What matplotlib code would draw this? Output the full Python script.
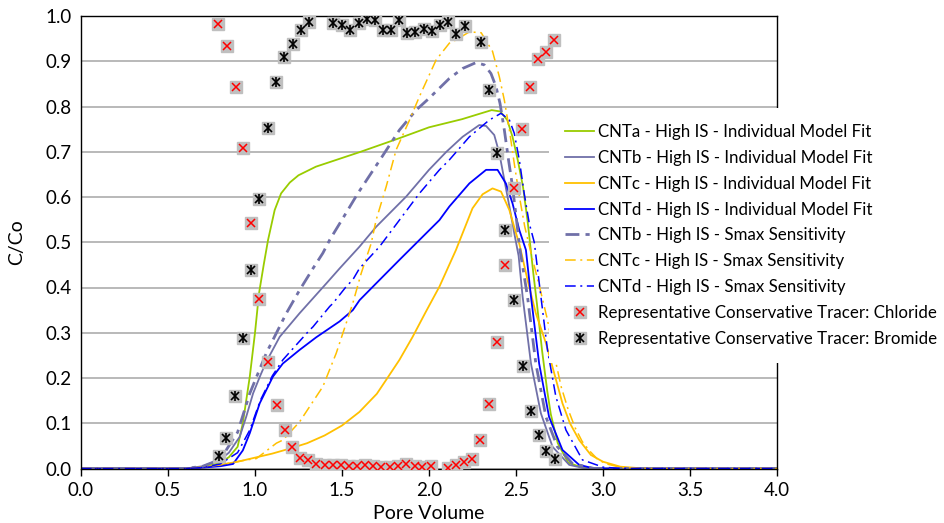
import numpy as np
import matplotlib
matplotlib.use('Agg')
import matplotlib.pyplot as plt
from matplotlib.legend_handler import HandlerTuple

plt.rcParams['font.family'] = ['Lato', 'DejaVu Sans']

# CNTa - individual model fit
cnta_x = [0, 0.6, 0.7, 0.8, 0.85, 0.9, 0.93, 0.97, 1.0, 1.023, 1.05, 1.075, 1.113, 1.15,
          1.2, 1.25, 1.35, 1.6, 1.83, 2.0, 2.19, 2.3, 2.36, 2.41, 2.45, 2.48, 2.51, 2.54,
          2.566, 2.58, 2.60, 2.62, 2.65, 2.68, 2.70, 2.74, 2.8, 2.88, 3.0, 4.0]
cnta_y = [0, 0, 0.003, 0.012, 0.025, 0.048, 0.10, 0.203, 0.30, 0.387, 0.45, 0.505, 0.571, 0.608,
          0.632, 0.648, 0.667, 0.699, 0.730, 0.754, 0.772, 0.785, 0.792, 0.789, 0.770, 0.733, 0.682, 0.623,
          0.549, 0.50, 0.43, 0.365, 0.26, 0.17, 0.12, 0.056, 0.013, 0.002, 0, 0]

# CNTb - individual model fit
cntb_x = [0, 0.6, 0.7, 0.8, 0.85, 0.912, 0.95, 0.989, 1.03, 1.065, 1.142, 1.256, 1.41, 1.486,
          1.6, 1.696, 1.869, 2.0, 2.1, 2.193, 2.289, 2.328, 2.375, 2.404, 2.433, 2.462, 2.49,
          2.515, 2.538, 2.586, 2.643, 2.71, 2.806, 2.9, 4.0]
cntb_y = [0, 0, 0.005, 0.02, 0.035, 0.07, 0.115, 0.166, 0.205, 0.236, 0.291, 0.343, 0.409, 0.442,
          0.490, 0.534, 0.601, 0.66, 0.70, 0.733, 0.759, 0.757, 0.737, 0.697, 0.638, 0.579, 0.520,
          0.47, 0.380, 0.232, 0.122, 0.048, 0.008, 0, 0]

# CNTc - individual model fit
cntc_x = [0, 0.6, 0.7, 0.8, 0.9, 1.0, 1.1, 1.2, 1.3, 1.4, 1.5, 1.6, 1.7, 1.754, 1.83, 1.906,
          1.98, 2.06, 2.155, 2.25, 2.308, 2.365, 2.414, 2.462, 2.50, 2.52, 2.566, 2.614, 2.672,
          2.72, 2.767, 2.81, 2.863, 2.93, 3.0, 3.1, 3.2, 3.3, 4.0]
cntc_y = [0, 0, 0.002, 0.008, 0.015, 0.024, 0.033, 0.044, 0.056, 0.073, 0.095, 0.125, 0.165, 0.196, 0.24, 0.291,
          0.345, 0.402, 0.483, 0.575, 0.606, 0.619, 0.612, 0.571, 0.520, 0.495, 0.417, 0.343, 0.277,
          0.21, 0.144, 0.10, 0.063, 0.03, 0.015, 0.004, 0.001, 0, 0]

# CNTd - individual model fit
cntd_x = [0, 0.6, 0.7, 0.8, 0.874, 0.93, 0.97, 1.027, 1.103, 1.16, 1.256, 1.352, 1.486, 1.562,
          1.601, 1.696, 1.83, 1.945, 2.06, 2.117, 2.232, 2.328, 2.394, 2.442, 2.48, 2.519, 2.557,
          2.586, 2.633, 2.69, 2.767, 2.863, 2.95, 4.0]
cntd_y = [0, 0, 0.002, 0.005, 0.01, 0.04, 0.078, 0.144, 0.203, 0.232, 0.262, 0.290, 0.325, 0.350,
          0.372, 0.409, 0.461, 0.505, 0.549, 0.579, 0.630, 0.660, 0.660, 0.630, 0.586, 0.527, 0.483,
          0.380, 0.232, 0.114, 0.041, 0.008, 0, 0]

# Smax sensitivity runs
smaxb_x = [0, 0.6, 0.7, 0.8, 0.9, 0.97, 1.065, 1.18, 1.256, 1.333, 1.39, 1.429, 1.505, 1.591,
           1.725, 1.83, 1.926, 2.0, 2.117, 2.193, 2.27, 2.318, 2.356, 2.385, 2.408, 2.433, 2.457,
           2.48, 2.503, 2.523, 2.566, 2.614, 2.672, 2.738, 2.824, 2.95, 4.0]
smaxb_y = [0, 0, 0.005, 0.02, 0.08, 0.166, 0.255, 0.343, 0.394, 0.442, 0.476, 0.505, 0.553, 0.608,
           0.686, 0.748, 0.792, 0.818, 0.862, 0.884, 0.897, 0.892, 0.873, 0.844, 0.807, 0.748, 0.682,
           0.623, 0.549, 0.483, 0.380, 0.232, 0.114, 0.048, 0.011, 0, 0]

smaxc_x = [0, 0.6, 0.7, 0.8, 0.951, 1.008, 1.123, 1.161, 1.256, 1.39, 1.467, 1.524, 1.562, 1.61,
           1.668, 1.696, 1.754, 1.811, 1.888, 1.945, 2.041, 2.117, 2.155, 2.232, 2.30, 2.365,
           2.404, 2.433, 2.462, 2.49, 2.52, 2.55, 2.59, 2.63, 2.68, 2.72, 2.76, 2.80, 2.84,
           2.88, 2.92, 2.97, 3.02, 3.1, 3.2, 4.0]
smaxc_y = [0, 0, 0.003, 0.008, 0.019, 0.022, 0.056, 0.063, 0.103, 0.181, 0.255, 0.321, 0.365, 0.431,
           0.498, 0.549, 0.623, 0.704, 0.770, 0.822, 0.903, 0.94, 0.947, 0.965, 0.963, 0.922,
           0.866, 0.814, 0.748, 0.674, 0.60, 0.535, 0.47, 0.41, 0.33, 0.25, 0.18, 0.13, 0.09,
           0.06, 0.04, 0.02, 0.01, 0.003, 0, 0]

smaxd_x = [0, 0.6, 0.7, 0.8, 0.9, 0.97, 1.03, 1.1, 1.16, 1.218, 1.314, 1.333, 1.429, 1.448,
           1.524, 1.562, 1.60, 1.715, 1.83, 1.945, 2.06, 2.117, 2.232, 2.346, 2.414, 2.462, 2.49,
           2.519, 2.547, 2.576, 2.605, 2.643, 2.681, 2.729, 2.787, 2.882, 3.0, 3.1, 4.0]
smaxd_y = [0, 0, 0.002, 0.01, 0.035, 0.085, 0.15, 0.205, 0.24, 0.265, 0.306, 0.313, 0.358, 0.365,
           0.402, 0.417, 0.442, 0.49, 0.549, 0.608, 0.66, 0.682, 0.733, 0.770, 0.785, 0.770, 0.741,
           0.682, 0.608, 0.542, 0.50, 0.380, 0.262, 0.159, 0.085, 0.019, 0.003, 0, 0]

# conservative tracers
cl_x = [0.786, 0.838, 0.888, 0.931, 0.979, 1.025, 1.075, 1.124, 1.17, 1.214, 1.26, 1.304, 1.352,
        1.40, 1.447, 1.494, 1.54, 1.587, 1.63, 1.68, 1.727, 1.774, 1.82, 1.87, 1.92, 1.96, 2.01,
        2.108, 2.154, 2.20, 2.248, 2.294, 2.345, 2.392, 2.438, 2.49, 2.533, 2.579, 2.625, 2.67, 2.72]
cl_y = [0.982, 0.934, 0.842, 0.708, 0.543, 0.374, 0.235, 0.140, 0.084, 0.047, 0.024, 0.018, 0.011,
        0.008, 0.008, 0.008, 0.006, 0.006, 0.007, 0.005, 0.004, 0.004, 0.005, 0.009, 0.005, 0.003, 0.006,
        0.002, 0.008, 0.015, 0.022, 0.062, 0.143, 0.279, 0.449, 0.620, 0.751, 0.842, 0.904, 0.920, 0.946]

br_x = [0.792, 0.836, 0.885, 0.933, 0.977, 1.025, 1.075, 1.123, 1.169, 1.216, 1.264, 1.312,
        1.451, 1.499, 1.547, 1.595, 1.641, 1.688, 1.734, 1.78, 1.829, 1.876, 1.922, 1.97, 2.016,
        2.064, 2.111, 2.157, 2.205, 2.30, 2.347, 2.392, 2.438, 2.49, 2.538, 2.586, 2.63, 2.675, 2.725]
br_y = [0.028, 0.068, 0.161, 0.288, 0.438, 0.596, 0.752, 0.854, 0.909, 0.939, 0.970, 0.987,
        0.984, 0.980, 0.968, 0.984, 0.994, 0.991, 0.970, 0.970, 0.991, 0.963, 0.965, 0.972, 0.967,
        0.981, 0.986, 0.961, 0.977, 0.943, 0.836, 0.697, 0.527, 0.372, 0.227, 0.128, 0.073, 0.039, 0.022]

green = '#99CC00'
purple = '#7070A8'
yellow = '#FFC000'
blue = '#0000FF'
gray = '#BFBFBF'

fig = plt.figure(figsize=(9.44, 5.23), dpi=100)
ax = fig.add_axes([81/944, 1 - 468.5/523, 696/944, 452.5/523])

ax.plot(cnta_x, cnta_y, color=green, lw=1.3, label='CNTa - High IS - Individual Model Fit')
ax.plot(cntb_x, cntb_y, color=purple, lw=1.3, label='CNTb - High IS - Individual Model Fit')
ax.plot(cntc_x, cntc_y, color=yellow, lw=1.3, label='CNTc - High IS - Individual Model Fit')
ax.plot(cntd_x, cntd_y, color=blue, lw=1.3, label='CNTd - High IS - Individual Model Fit')
ax.plot(smaxb_x, smaxb_y, color=purple, lw=2.0, dashes=(5, 2.2, 1.5, 2.2),
        label='CNTb - High IS - Smax Sensitivity')
ax.plot(smaxc_x, smaxc_y, color=yellow, lw=1.1, dashes=(7, 3, 1.3, 3),
        label='CNTc - High IS - Smax Sensitivity')
ax.plot(smaxd_x, smaxd_y, color=blue, lw=1.1, dashes=(7, 3, 1.3, 3),
        label='CNTd - High IS - Smax Sensitivity')

cl_bg, = ax.plot(cl_x, cl_y, ls='none', marker='s', ms=8, mfc=gray, mec=gray, zorder=4)
cl_mk, = ax.plot(cl_x, cl_y, ls='none', marker='x', ms=6, mew=1.1, color='#FF0000', zorder=5)
br_bg, = ax.plot(br_x, br_y, ls='none', marker='s', ms=8, mfc=gray, mec=gray, zorder=4)
br_mk, = ax.plot(br_x, br_y, ls='none', marker='x', ms=6, mew=1.2, color='black', zorder=5)
br_mk2, = ax.plot(br_x, br_y, ls='none', marker='|', ms=7, mew=1.2, color='black', zorder=5)

ax.set_xlim(0, 4)
ax.set_ylim(0, 1)
ax.set_xticks(np.arange(0, 4.01, 0.5))
ax.set_yticks(np.arange(0, 1.01, 0.1))
ax.xaxis.set_major_formatter(matplotlib.ticker.FormatStrFormatter('%.1f'))
ax.yaxis.set_major_formatter(matplotlib.ticker.FormatStrFormatter('%.1f'))
ax.tick_params(axis='x', direction='out', length=5, width=1, labelsize=13.5, pad=5)
ax.tick_params(axis='y', length=0, labelsize=13.5, pad=7)
ax.grid(axis='y', color='#A6A6A6', lw=1.1)
ax.set_axisbelow(True)
for s in ax.spines.values():
    s.set_color('black')
    s.set_linewidth(1.0)

ax.set_xlabel('Pore Volume', fontsize=14, labelpad=4)
ax.set_ylabel('C/Co', fontsize=14, labelpad=14)

handles, labels = ax.get_legend_handles_labels()
handles = handles[:7] + [(cl_bg, cl_mk), (br_bg, br_mk, br_mk2)]
labels = labels[:7] + ['Representative Conservative Tracer: Chloride',
                       'Representative Conservative Tracer: Bromide']
leg = ax.legend(handles, labels, loc='upper left', bbox_to_anchor=(549/944, 1 - 108/523),
                bbox_transform=fig.transFigure, borderaxespad=0, fontsize=12.2, frameon=True,
                facecolor='white', edgecolor='none', framealpha=1, fancybox=False,
                handlelength=1.72, handletextpad=0.2, labelspacing=0.58, borderpad=0.95,
                numpoints=1, handler_map={tuple: HandlerTuple(ndivide=1, pad=0)})
leg.set_zorder(10)

plt.savefig('out.png', dpi=100)
